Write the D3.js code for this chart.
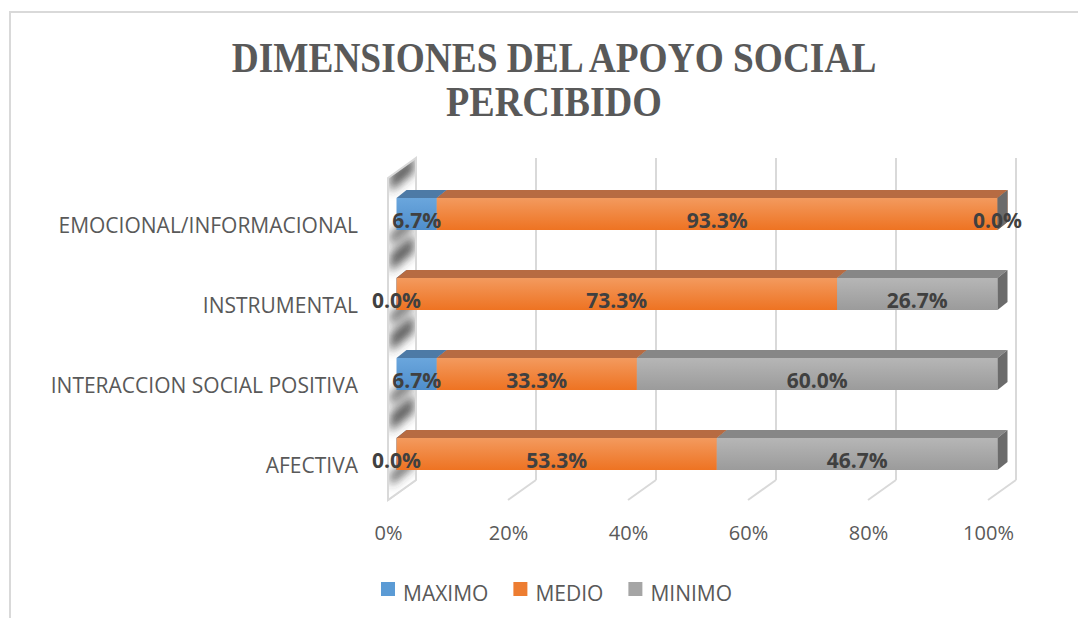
<!DOCTYPE html>
<html>
<head>
<meta charset="utf-8">
<script src="https://cdn.jsdelivr.net/npm/d3@7"></script>
<style>
  html, body { margin: 0; padding: 0; background: #fff; }
  svg { display: block; }
</style>
</head>
<body>
<svg id="chart" width="1078" height="618"></svg>
<script>
// ---- data ----
const categories = ["EMOCIONAL/INFORMACIONAL", "INSTRUMENTAL", "INTERACCION SOCIAL POSITIVA", "AFECTIVA"];
const seriesNames = ["MAXIMO", "MEDIO", "MINIMO"];
const maximo = [6.7, 0.0, 6.7, 0.0];
const medio  = [93.3, 73.3, 33.3, 53.3];
const minimo = [0.0, 26.7, 60.0, 46.7];
const xTicks = [0, 20, 40, 60, 80, 100];
const titleLines = ["DIMENSIONES DEL APOYO SOCIAL", "PERCIBIDO"];

// ---- styles ----
const colors = {
  MAXIMO: { top: "#6aa6dd", bottom: "#4f8ecb", cap: "#4d7aa6", side: "#3f6a94", legend: "#5b9bd5" },
  MEDIO:  { top: "#f39a5e", bottom: "#ee7322", cap: "#b76b42", side: "#b05a26", legend: "#ed7d31" },
  MINIMO: { top: "#b6b6b6", bottom: "#9b9b9b", cap: "#878787", side: "#6b6b6b", legend: "#a5a5a5" }
};
const gridColor = "#d9d9d9";
const textColor = "#595959";
const labelColor = "#404040";
const sansFont = "'Open Sans', 'Liberation Sans', sans-serif";

const svg = d3.select("#chart");
const defs = svg.append("defs");

seriesNames.forEach(s => {
  const g = defs.append("linearGradient").attr("id", "grad-" + s)
    .attr("x1", 0).attr("y1", 0).attr("x2", 0).attr("y2", 1);
  g.append("stop").attr("offset", "0%").attr("stop-color", colors[s].top);
  g.append("stop").attr("offset", "100%").attr("stop-color", colors[s].bottom);
});
defs.append("filter").attr("id", "blur").attr("x", "-50%").attr("y", "-50%").attr("width", "200%").attr("height", "200%")
  .append("feGaussianBlur").attr("stdDeviation", 5);

// chart border
svg.append("rect").attr("x", 10).attr("y", 12).attr("width", 1100).attr("height", 700)
  .attr("fill", "none").attr("stroke", gridColor).attr("stroke-width", 2);

// title (condensed serif, scaled horizontally to match)
const titleWidths = [645, 216];
const titleCenter = 554;
svg.append("g").selectAll("text").data(titleLines).join("text")
  .attr("x", 0)
  .attr("y", (d, i) => 72 + i * 44)
  .attr("text-anchor", "middle")
  .attr("font-family", "'Liberation Serif', 'Times New Roman', serif")
  .attr("font-weight", "bold")
  .attr("font-size", 43)
  .attr("fill", textColor)
  .text(d => d)
  .each(function(d, i) {
    const w = this.getComputedTextLength();
    const sx = titleWidths[i] / w;
    d3.select(this).attr("transform", `translate(${titleCenter},0) scale(${sx},1)`);
  });

// ---- scales ----
const xBar = d3.scaleLinear().domain([0, 100]).range([396.5, 997.5]);
const xFront = d3.scaleLinear().domain([0, 100]).range([388, 988]);
const xBack = d3.scaleLinear().domain([0, 100]).range([416, 1016]);
const y = d3.scaleBand().domain(categories).range([174, 494]).paddingInner(0.6).paddingOuter(0.3);

const floorBack = 480, floorFront = 500, wallTopBack = 158;
const depthDY = floorBack - floorFront;
const barDX = 10, barDY = -8;

// gridlines on back wall
const grid = svg.append("g");
grid.selectAll("line.v").data(xTicks).join("line")
  .attr("x1", d => xBack(d)).attr("x2", d => xBack(d))
  .attr("y1", wallTopBack).attr("y2", floorBack)
  .attr("stroke", gridColor).attr("stroke-width", 2);
grid.selectAll("line.f").data(xTicks).join("line")
  .attr("x1", d => xBack(d)).attr("x2", d => xFront(d))
  .attr("y1", floorBack).attr("y2", floorFront)
  .attr("stroke", gridColor).attr("stroke-width", 2);

// left side wall
const wallPts = [
  [xFront(0), wallTopBack - depthDY],
  [xBack(0), wallTopBack],
  [xBack(0), floorBack],
  [xFront(0), floorFront]
];
defs.append("clipPath").attr("id", "wallClip")
  .append("polygon").attr("points", wallPts.map(p => p.join(",")).join(" "));
const wall = svg.append("g").attr("clip-path", "url(#wallClip)");
wall.append("polygon").attr("points", wallPts.map(p => p.join(",")).join(" ")).attr("fill", "#fff");
const shadowG = wall.append("g").attr("filter", "url(#blur)");
categories.forEach(c => {
  const t = y(c), b = y(c) + y.bandwidth();
  shadowG.append("polygon")
    .attr("points", [
      [xFront(0) + 2, t - 24], [xBack(0) - 2, t - 24 + depthDY],
      [xBack(0) - 2, t - 6 + depthDY], [xFront(0) + 2, t - 6]
    ].map(p => p.join(",")).join(" "))
    .attr("fill", "#333").attr("opacity", 0.8);
  shadowG.append("polygon")
    .attr("points", [
      [xFront(0) + 2, b + 4], [xBack(0) - 2, b + 4 + depthDY],
      [xBack(0) - 2, b + 16 + depthDY], [xFront(0) + 2, b + 16]
    ].map(p => p.join(",")).join(" "))
    .attr("fill", "#333").attr("opacity", 0.75);
});
svg.append("polygon").attr("points", wallPts.map(p => p.join(",")).join(" "))
  .attr("fill", "none").attr("stroke", gridColor).attr("stroke-width", 2);

// ---- stacked bars ----
const rows = categories.map((c, i) => ({ cat: c, MAXIMO: maximo[i], MEDIO: medio[i], MINIMO: minimo[i] }));
const stacked = d3.stack().keys(seriesNames)(rows);

const barsG = svg.append("g");
const segs = [];
rows.forEach((r, i) => {
  stacked.forEach(layer => {
    segs.push({ key: layer.key, cat: r.cat, x0: layer[i][0], x1: layer[i][1], value: r[layer.key] });
  });
});

segs.forEach(d => {
  const xa = xBar(d.x0), xb = xBar(d.x1), t = y(d.cat), h = y.bandwidth(), bt = t + h;
  const g = barsG.append("g");
  g.append("polygon")
    .attr("points", [[xa, t], [xb, t], [xb + barDX, t + barDY], [xa + barDX, t + barDY]].map(p => p.join(",")).join(" "))
    .attr("fill", colors[d.key].cap);
  g.append("rect").attr("x", xa).attr("y", t).attr("width", Math.max(0, xb - xa)).attr("height", h)
    .attr("fill", "url(#grad-" + d.key + ")");
  g.append("polygon")
    .attr("points", [[xb, t], [xb + barDX, t + barDY], [xb + barDX, bt + barDY], [xb, bt]].map(p => p.join(",")).join(" "))
    .attr("fill", colors[d.key].side);
});

// data labels
svg.append("g").selectAll("text").data(segs).join("text")
  .attr("x", d => (xBar(d.x0) + xBar(d.x1)) / 2)
  .attr("y", d => y(d.cat) + y.bandwidth() / 2 + 7)
  .attr("dy", "0.35em")
  .attr("text-anchor", "middle")
  .attr("font-family", sansFont)
  .attr("font-weight", "bold")
  .attr("font-size", 21)
  .attr("fill", labelColor)
  .text(d => d.value.toFixed(1) + "%");

// category axis
const yAxis = svg.append("g").attr("transform", "translate(358,0)")
  .call(d3.axisLeft(y).tickSize(0).tickPadding(0));
yAxis.select(".domain").remove();
yAxis.selectAll("text")
  .attr("font-family", sansFont).attr("font-size", 21).attr("fill", textColor)
  .attr("dy", "0.35em")
  .attr("transform", "translate(0,12)");

// value axis
const xAxis = svg.append("g").attr("transform", "translate(0,525)")
  .call(d3.axisBottom(xFront).tickValues(xTicks).tickFormat(d => d + "%").tickSize(0).tickPadding(0));
xAxis.select(".domain").remove();
xAxis.selectAll("text")
  .attr("font-family", sansFont).attr("font-size", 20).attr("fill", textColor)
  .attr("dy", "0.75em");

// legend
const legend = svg.append("g");
let lx = 381;
seriesNames.forEach(s => {
  legend.append("rect").attr("x", lx).attr("y", 582).attr("width", 14).attr("height", 14).attr("fill", colors[s].legend);
  const t = legend.append("text").attr("x", lx + 22).attr("y", 594)
    .attr("font-family", sansFont).attr("font-size", 21).attr("fill", textColor)
    .attr("dy", "0.35em").text(s);
  lx = lx + 22 + t.node().getComputedTextLength() + 25;
});
</script>
</body>
</html>
